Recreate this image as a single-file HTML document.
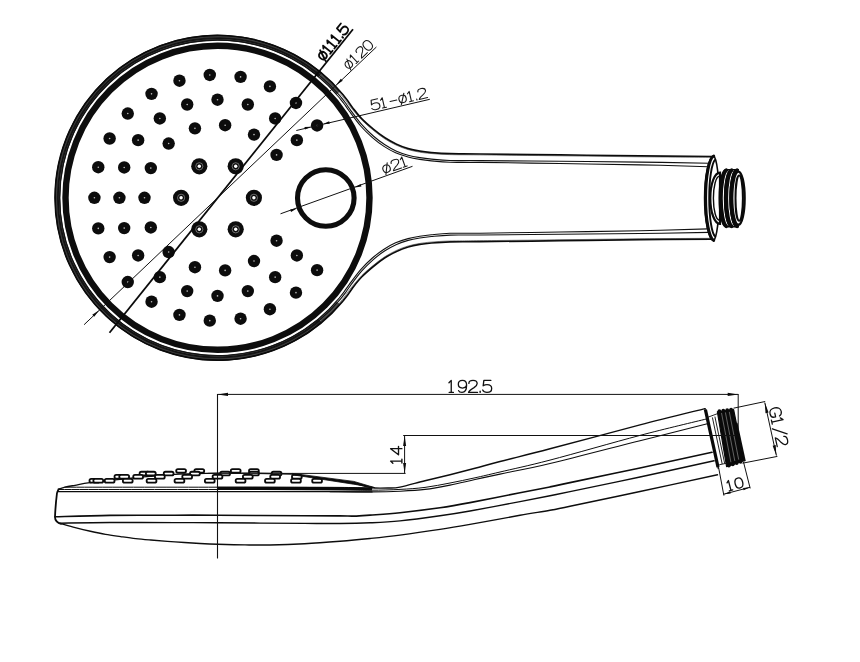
<!DOCTYPE html>
<html><head><meta charset="utf-8"><title>Hand shower drawing</title>
<style>
html,body{margin:0;padding:0;background:#fff;}
body{width:860px;height:662px;overflow:hidden;font-family:"Liberation Sans",sans-serif;}
svg{display:block;}
</style></head><body>
<svg width="860" height="662" viewBox="0 0 860 662">
<rect width="860" height="662" fill="#fff"/>
<!-- top view -->
<circle cx="217.5" cy="197.8" r="152" fill="none" stroke="#0d0d0d" stroke-width="6.4"/>
<path d="M 320.47 75.08 A 160.2 160.2 0 1 0 320.47 320.52" fill="none" stroke="#1a1a1a" stroke-width="5.6"/>
<path d="M 338.4 92.7 A 160.2 160.2 0 0 0 320.47 75.08" fill="none" stroke="#555" stroke-width="5.2"/>
<path d="M 338.4 302.9 A 160.2 160.2 0 0 1 320.47 320.52" fill="none" stroke="#555" stroke-width="5.2"/>
<path d="M 315.33 72.59 A 158.9 158.9 0 1 0 315.33 323.01" fill="none" stroke="#8a8a8a" stroke-width="0.45"/>
<path d="M 316.81 70.69 A 161.3 161.3 0 1 0 316.81 324.91" fill="none" stroke="#8a8a8a" stroke-width="0.45"/>
<path d="M 712.5 156.5 C 700.42 156.4 665.42 156.17 640 155.9 C 614.58 155.63 586.67 155.22 560 154.9 C 533.33 154.58 498.33 154.2 480 154 C 461.67 153.8 458.1 153.93 450 153.7 C 441.9 153.47 436.43 153.02 431.4 152.6 C 426.37 152.18 423.68 151.87 419.8 151.2 C 415.92 150.53 411.98 149.77 408.1 148.6 C 404.22 147.43 400.37 146 396.5 144.2 C 392.63 142.4 388.77 140.32 384.9 137.8 C 381.03 135.28 377.18 132.3 373.3 129.1 C 369.42 125.9 365 122.09 361.6 118.6 C 358.2 115.11 355.18 111.07 352.92 108.17 C 350.66 105.27 349.73 103.48 348.05 101.2 C 346.36 98.92 343.68 95.62 342.81 94.5 A 162.4 162.4 0 1 0 342.81 301.1 C 343.68 299.98 346.36 296.68 348.05 294.4 C 349.73 292.12 350.66 290.33 352.92 287.43 C 355.18 284.53 358.2 280.49 361.6 277 C 365 273.51 369.42 269.7 373.3 266.5 C 377.18 263.3 381.03 260.32 384.9 257.8 C 388.77 255.28 392.63 253.2 396.5 251.4 C 400.37 249.6 404.22 248.17 408.1 247 C 411.98 245.83 415.92 245.07 419.8 244.4 C 423.68 243.73 426.37 243.42 431.4 243 C 436.43 242.58 441.9 242.13 450 241.9 C 458.1 241.67 461.67 241.8 480 241.6 C 498.33 241.4 533.33 241.02 560 240.7 C 586.67 240.38 614.58 239.97 640 239.7 C 665.42 239.43 700.42 239.2 712.5 239.1" fill="none" stroke="#0a0a0a" stroke-width="1.7" stroke-linejoin="round"/>
<path d="M 711 157.3 C 699.12 157.22 664.92 157.05 639.7 156.8 C 614.48 156.55 586.37 156.12 559.7 155.8 C 533.03 155.48 498.03 155.1 479.7 154.9 C 461.37 154.7 457.8 154.83 449.7 154.6 C 441.6 154.37 436.13 153.92 431.1 153.5 C 426.07 153.08 423.38 152.77 419.5 152.1 C 415.62 151.43 411.68 150.67 407.8 149.5 C 403.92 148.33 400.07 146.9 396.2 145.1 C 392.33 143.3 388.47 141.22 384.6 138.7 C 380.73 136.18 376.88 133.2 373 130 C 369.12 126.8 365.1 123.4 361.3 119.5 C 357.5 115.6 352.86 109.89 350.18 106.61 C 347.51 103.32 346.94 102.02 345.23 99.79 C 343.52 97.56 340.81 94.33 339.93 93.24 A 161 161 0 1 0 339.93 302.36 C 340.81 301.27 343.52 298.04 345.23 295.81 C 346.94 293.58 347.51 292.28 350.18 288.99 C 352.86 285.71 357.5 280 361.3 276.1 C 365.1 272.2 369.12 268.8 373 265.6 C 376.88 262.4 380.73 259.42 384.6 256.9 C 388.47 254.38 392.33 252.3 396.2 250.5 C 400.07 248.7 403.92 247.27 407.8 246.1 C 411.68 244.93 415.62 244.17 419.5 243.5 C 423.38 242.83 426.07 242.52 431.1 242.1 C 436.13 241.68 441.6 241.23 449.7 241 C 457.8 240.77 461.37 240.9 479.7 240.7 C 498.03 240.5 533.03 240.12 559.7 239.8 C 586.37 239.48 614.48 239.05 639.7 238.8 C 664.92 238.55 699.12 238.38 711 238.3" fill="none" stroke="#333" stroke-width="0.6" stroke-linejoin="round"/>
<path d="M 709 163.2 C 697.5 163.02 664.83 162.42 640 162.1 C 615.17 161.78 586.67 161.55 560 161.3 C 533.33 161.05 498.33 160.73 480 160.6 C 461.67 160.47 458.1 160.75 450 160.5 C 441.9 160.25 436.43 159.58 431.4 159.1 C 426.37 158.62 423.68 158.25 419.8 157.6 C 415.92 156.95 411.98 156.27 408.1 155.2 C 404.22 154.13 400.37 152.93 396.5 151.2 C 392.63 149.47 388.77 147.33 384.9 144.8 C 381.03 142.27 377.18 139.4 373.3 136 C 369.42 132.6 365.43 128.75 361.6 124.4 C 357.77 120.05 353.01 113.44 350.34 109.88 C 347.66 106.32 347.21 105.28 345.55 103.04 C 343.9 100.81 341.28 97.57 340.42 96.47 A 159.3 159.3 0 1 0 340.42 299.13 C 341.28 298.03 343.9 294.79 345.55 292.56 C 347.21 290.32 347.66 289.28 350.34 285.72 C 353.01 282.16 357.77 275.55 361.6 271.2 C 365.43 266.85 369.42 263 373.3 259.6 C 377.18 256.2 381.03 253.33 384.9 250.8 C 388.77 248.27 392.63 246.13 396.5 244.4 C 400.37 242.67 404.22 241.47 408.1 240.4 C 411.98 239.33 415.92 238.65 419.8 238 C 423.68 237.35 426.37 236.98 431.4 236.5 C 436.43 236.02 441.9 235.35 450 235.1 C 458.1 234.85 461.67 235.13 480 235 C 498.33 234.87 533.33 234.55 560 234.3 C 586.67 234.05 615.17 233.82 640 233.5 C 664.83 233.18 697.5 232.58 709 232.4" fill="none" stroke="#111" stroke-width="1.1" stroke-linejoin="round"/>
<path d="M 708 166.7 C 696.67 166.39 664.67 165.35 640 164.83 C 615.33 164.31 586.67 163.97 560 163.56 C 533.33 163.16 498.33 162.61 480 162.4 C 461.67 162.19 458.1 162.55 450 162.3 C 441.9 162.05 436.43 161.38 431.4 160.9 C 426.37 160.42 423.68 160.05 419.8 159.4 C 415.92 158.75 412.13 158.1 408.1 157 C 404.07 155.9 399.62 154.57 395.6 152.8 C 391.58 151.03 387.87 148.93 384 146.4 C 380.13 143.87 376.28 141 372.4 137.6 C 368.52 134.2 364.6 130.47 360.7 126 C 356.8 121.53 351.74 114.43 349 110.76 C 346.27 107.09 345.9 106.21 344.27 104 C 342.63 101.78 340.03 98.57 339.19 97.49 A 157.7 157.7 0 1 0 339.19 298.11 C 340.03 297.03 342.63 293.82 344.27 291.6 C 345.9 289.39 346.27 288.51 349 284.84 C 351.74 281.17 356.8 274.07 360.7 269.6 C 364.6 265.13 368.52 261.4 372.4 258 C 376.28 254.6 380.13 251.73 384 249.2 C 387.87 246.67 391.58 244.57 395.6 242.8 C 399.62 241.03 404.07 239.7 408.1 238.6 C 412.13 237.5 415.92 236.85 419.8 236.2 C 423.68 235.55 426.37 235.18 431.4 234.7 C 436.43 234.22 441.9 233.55 450 233.3 C 458.1 233.05 461.67 233.41 480 233.2 C 498.33 232.99 533.33 232.44 560 232.04 C 586.67 231.63 615.33 231.29 640 230.77 C 664.67 230.25 696.67 229.21 708 228.9" fill="none" stroke="#111" stroke-width="1.1" stroke-linejoin="round"/>
<circle cx="317.09" cy="270.16" r="6.2" fill="#0c0c0c"/><circle cx="317.09" cy="270.16" r="0.8" fill="#bbb"/>
<circle cx="295.97" cy="292.65" r="6.2" fill="#0c0c0c"/><circle cx="295.97" cy="292.65" r="0.8" fill="#bbb"/>
<circle cx="269.91" cy="309.18" r="6.2" fill="#0c0c0c"/><circle cx="269.91" cy="309.18" r="0.8" fill="#bbb"/>
<circle cx="240.57" cy="318.72" r="6.2" fill="#0c0c0c"/><circle cx="240.57" cy="318.72" r="0.8" fill="#bbb"/>
<circle cx="209.77" cy="320.66" r="6.2" fill="#0c0c0c"/><circle cx="209.77" cy="320.66" r="0.8" fill="#bbb"/>
<circle cx="179.46" cy="314.88" r="6.2" fill="#0c0c0c"/><circle cx="179.46" cy="314.88" r="0.8" fill="#bbb"/>
<circle cx="151.54" cy="301.74" r="6.2" fill="#0c0c0c"/><circle cx="151.54" cy="301.74" r="0.8" fill="#bbb"/>
<circle cx="127.76" cy="282.07" r="6.2" fill="#0c0c0c"/><circle cx="127.76" cy="282.07" r="0.8" fill="#bbb"/>
<circle cx="109.63" cy="257.1" r="6.2" fill="#0c0c0c"/><circle cx="109.63" cy="257.1" r="0.8" fill="#bbb"/>
<circle cx="98.27" cy="228.41" r="6.2" fill="#0c0c0c"/><circle cx="98.27" cy="228.41" r="0.8" fill="#bbb"/>
<circle cx="94.4" cy="197.8" r="6.2" fill="#0c0c0c"/><circle cx="94.4" cy="197.8" r="0.8" fill="#bbb"/>
<circle cx="98.27" cy="167.19" r="6.2" fill="#0c0c0c"/><circle cx="98.27" cy="167.19" r="0.8" fill="#bbb"/>
<circle cx="109.63" cy="138.5" r="6.2" fill="#0c0c0c"/><circle cx="109.63" cy="138.5" r="0.8" fill="#bbb"/>
<circle cx="127.76" cy="113.53" r="6.2" fill="#0c0c0c"/><circle cx="127.76" cy="113.53" r="0.8" fill="#bbb"/>
<circle cx="151.54" cy="93.86" r="6.2" fill="#0c0c0c"/><circle cx="151.54" cy="93.86" r="0.8" fill="#bbb"/>
<circle cx="179.46" cy="80.72" r="6.2" fill="#0c0c0c"/><circle cx="179.46" cy="80.72" r="0.8" fill="#bbb"/>
<circle cx="209.77" cy="74.94" r="6.2" fill="#0c0c0c"/><circle cx="209.77" cy="74.94" r="0.8" fill="#bbb"/>
<circle cx="240.57" cy="76.88" r="6.2" fill="#0c0c0c"/><circle cx="240.57" cy="76.88" r="0.8" fill="#bbb"/>
<circle cx="269.91" cy="86.42" r="6.2" fill="#0c0c0c"/><circle cx="269.91" cy="86.42" r="0.8" fill="#bbb"/>
<circle cx="295.97" cy="102.95" r="6.2" fill="#0c0c0c"/><circle cx="295.97" cy="102.95" r="0.8" fill="#bbb"/>
<circle cx="317.09" cy="125.44" r="6.2" fill="#0c0c0c"/><circle cx="317.09" cy="125.44" r="0.8" fill="#bbb"/>
<circle cx="296.86" cy="255.46" r="6.2" fill="#0c0c0c"/><circle cx="296.86" cy="255.46" r="0.8" fill="#bbb"/>
<circle cx="275.16" cy="277.16" r="6.2" fill="#0c0c0c"/><circle cx="275.16" cy="277.16" r="0.8" fill="#bbb"/>
<circle cx="247.81" cy="291.1" r="6.2" fill="#0c0c0c"/><circle cx="247.81" cy="291.1" r="0.8" fill="#bbb"/>
<circle cx="217.5" cy="295.9" r="6.2" fill="#0c0c0c"/><circle cx="217.5" cy="295.9" r="0.8" fill="#bbb"/>
<circle cx="187.19" cy="291.1" r="6.2" fill="#0c0c0c"/><circle cx="187.19" cy="291.1" r="0.8" fill="#bbb"/>
<circle cx="159.84" cy="277.16" r="6.2" fill="#0c0c0c"/><circle cx="159.84" cy="277.16" r="0.8" fill="#bbb"/>
<circle cx="138.14" cy="255.46" r="6.2" fill="#0c0c0c"/><circle cx="138.14" cy="255.46" r="0.8" fill="#bbb"/>
<circle cx="124.2" cy="228.11" r="6.2" fill="#0c0c0c"/><circle cx="124.2" cy="228.11" r="0.8" fill="#bbb"/>
<circle cx="119.4" cy="197.8" r="6.2" fill="#0c0c0c"/><circle cx="119.4" cy="197.8" r="0.8" fill="#bbb"/>
<circle cx="124.2" cy="167.49" r="6.2" fill="#0c0c0c"/><circle cx="124.2" cy="167.49" r="0.8" fill="#bbb"/>
<circle cx="138.14" cy="140.14" r="6.2" fill="#0c0c0c"/><circle cx="138.14" cy="140.14" r="0.8" fill="#bbb"/>
<circle cx="159.84" cy="118.44" r="6.2" fill="#0c0c0c"/><circle cx="159.84" cy="118.44" r="0.8" fill="#bbb"/>
<circle cx="187.19" cy="104.5" r="6.2" fill="#0c0c0c"/><circle cx="187.19" cy="104.5" r="0.8" fill="#bbb"/>
<circle cx="217.5" cy="99.7" r="6.2" fill="#0c0c0c"/><circle cx="217.5" cy="99.7" r="0.8" fill="#bbb"/>
<circle cx="247.81" cy="104.5" r="6.2" fill="#0c0c0c"/><circle cx="247.81" cy="104.5" r="0.8" fill="#bbb"/>
<circle cx="275.16" cy="118.44" r="6.2" fill="#0c0c0c"/><circle cx="275.16" cy="118.44" r="0.8" fill="#bbb"/>
<circle cx="296.86" cy="140.14" r="6.2" fill="#0c0c0c"/><circle cx="296.86" cy="140.14" r="0.8" fill="#bbb"/>
<circle cx="276.56" cy="240.71" r="6.2" fill="#0c0c0c"/><circle cx="276.56" cy="240.71" r="0.8" fill="#bbb"/>
<circle cx="254" cy="261.02" r="6.2" fill="#0c0c0c"/><circle cx="254" cy="261.02" r="0.8" fill="#bbb"/>
<circle cx="225.13" cy="270.4" r="6.2" fill="#0c0c0c"/><circle cx="225.13" cy="270.4" r="0.8" fill="#bbb"/>
<circle cx="194.94" cy="267.23" r="6.2" fill="#0c0c0c"/><circle cx="194.94" cy="267.23" r="0.8" fill="#bbb"/>
<circle cx="168.65" cy="252.05" r="6.2" fill="#0c0c0c"/><circle cx="168.65" cy="252.05" r="0.8" fill="#bbb"/>
<circle cx="150.81" cy="227.49" r="6.2" fill="#0c0c0c"/><circle cx="150.81" cy="227.49" r="0.8" fill="#bbb"/>
<circle cx="144.5" cy="197.8" r="6.2" fill="#0c0c0c"/><circle cx="144.5" cy="197.8" r="0.8" fill="#bbb"/>
<circle cx="150.81" cy="168.11" r="6.2" fill="#0c0c0c"/><circle cx="150.81" cy="168.11" r="0.8" fill="#bbb"/>
<circle cx="168.65" cy="143.55" r="6.2" fill="#0c0c0c"/><circle cx="168.65" cy="143.55" r="0.8" fill="#bbb"/>
<circle cx="194.94" cy="128.37" r="6.2" fill="#0c0c0c"/><circle cx="194.94" cy="128.37" r="0.8" fill="#bbb"/>
<circle cx="225.13" cy="125.2" r="6.2" fill="#0c0c0c"/><circle cx="225.13" cy="125.2" r="0.8" fill="#bbb"/>
<circle cx="254" cy="134.58" r="6.2" fill="#0c0c0c"/><circle cx="254" cy="134.58" r="0.8" fill="#bbb"/>
<circle cx="276.56" cy="154.89" r="6.2" fill="#0c0c0c"/><circle cx="276.56" cy="154.89" r="0.8" fill="#bbb"/>
<circle cx="253.9" cy="197.8" r="8.1" fill="#0c0c0c"/><circle cx="253.9" cy="197.8" r="3.6" fill="none" stroke="#aaa" stroke-width="0.6"/><circle cx="253.9" cy="197.8" r="1.7" fill="#fff"/>
<circle cx="235.7" cy="166.28" r="8.1" fill="#0c0c0c"/><circle cx="235.7" cy="166.28" r="3.6" fill="none" stroke="#aaa" stroke-width="0.6"/><circle cx="235.7" cy="166.28" r="1.7" fill="#fff"/>
<circle cx="199.3" cy="166.28" r="8.1" fill="#0c0c0c"/><circle cx="199.3" cy="166.28" r="3.6" fill="none" stroke="#aaa" stroke-width="0.6"/><circle cx="199.3" cy="166.28" r="1.7" fill="#fff"/>
<circle cx="181.1" cy="197.8" r="8.1" fill="#0c0c0c"/><circle cx="181.1" cy="197.8" r="3.6" fill="none" stroke="#aaa" stroke-width="0.6"/><circle cx="181.1" cy="197.8" r="1.7" fill="#fff"/>
<circle cx="199.3" cy="229.32" r="8.1" fill="#0c0c0c"/><circle cx="199.3" cy="229.32" r="3.6" fill="none" stroke="#aaa" stroke-width="0.6"/><circle cx="199.3" cy="229.32" r="1.7" fill="#fff"/>
<circle cx="235.7" cy="229.32" r="8.1" fill="#0c0c0c"/><circle cx="235.7" cy="229.32" r="3.6" fill="none" stroke="#aaa" stroke-width="0.6"/><circle cx="235.7" cy="229.32" r="1.7" fill="#fff"/>
<circle cx="325.8" cy="198" r="28.3" fill="none" stroke="#0d0d0d" stroke-width="5.1"/>
<line x1="109.5" y1="332.7" x2="353" y2="29.2" stroke="#0a0a0a" stroke-width="1.8"/>
<line x1="84.1" y1="324.7" x2="376.4" y2="47" stroke="#111" stroke-width="1"/>
<polygon points="335.96,85.26 340.8,78.73 342.73,80.76" fill="#0a0a0a"/>
<polygon points="99.04,310.34 94.2,316.87 92.27,314.84" fill="#0a0a0a"/>
<g transform="translate(323.91 61.63) rotate(-51.26) scale(10.81 -10.6)" fill="none" stroke="#0a0a0a" stroke-width="0.17" stroke-linecap="round" stroke-linejoin="round"><path transform="translate(0 0)" d="M .375 .8 C .15 .8 .05 .64 .05 .43 C .05 .2 .15 .06 .375 .06 C .6 .06 .7 .2 .7 .43 C .7 .64 .6 .8 .375 .8 Z M .15 -.1 L .6 .95"/><path transform="translate(0.88 0)" d="M .03 .8 L .22 1 L .22 0 M .05 0 L .4 0"/><path transform="translate(1.5 0)" d="M .03 .8 L .22 1 L .22 0 M .05 0 L .4 0"/><path transform="translate(2.12 0)" d="M .03 .8 L .22 1 L .22 0 M .05 0 L .4 0"/><path transform="translate(2.74 0)" d="M .1 0 L .1 .1"/><path transform="translate(3.05 0)" d="M .68 1 L .1 1 L .04 .55 C .14 .62 .24 .65 .36 .65 C .6 .65 .75 .52 .75 .33 C .75 .13 .6 0 .36 0 C .18 0 .06 .07 0 .2"/></g>
<g transform="translate(348.92 70.35) rotate(-43.53) scale(10.61 -10.2)" fill="none" stroke="#1a1a1a" stroke-width="0.1" stroke-linecap="round" stroke-linejoin="round"><path transform="translate(0 0)" d="M .375 .8 C .15 .8 .05 .64 .05 .43 C .05 .2 .15 .06 .375 .06 C .6 .06 .7 .2 .7 .43 C .7 .64 .6 .8 .375 .8 Z M .15 -.1 L .6 .95"/><path transform="translate(0.88 0)" d="M .03 .8 L .22 1 L .22 0 M .05 0 L .4 0"/><path transform="translate(1.66 0)" d="M .03 .75 C .03 .9 .17 1 .375 1 C .58 1 .72 .9 .72 .74 C .72 .6 .62 .5 .46 .4 C .2 .25 .05 .15 0 0 L .75 0"/><path transform="translate(2.53 0)" d="M .375 1 C .12 1 0 .8 0 .5 C 0 .2 .12 0 .375 0 C .63 0 .75 .2 .75 .5 C .75 .8 .63 1 .375 1 Z"/></g>
<line x1="296.3" y1="130.5" x2="429.8" y2="99.3" stroke="#111" stroke-width="1"/>
<polygon points="311.05,126.85 305.02,129.6 304.43,127.07" fill="#0a0a0a"/>
<polygon points="323.13,124.03 329.16,121.29 329.75,123.82" fill="#0a0a0a"/>
<g transform="translate(372.33 110.47) rotate(-13.15) scale(11.32 -10.2)" fill="none" stroke="#1a1a1a" stroke-width="0.1" stroke-linecap="round" stroke-linejoin="round"><path transform="translate(0 0)" d="M .68 1 L .1 1 L .04 .55 C .14 .62 .24 .65 .36 .65 C .6 .65 .75 .52 .75 .33 C .75 .13 .6 0 .36 0 C .18 0 .06 .07 0 .2"/><path transform="translate(0.88 0)" d="M .03 .8 L .22 1 L .22 0 M .05 0 L .4 0"/><path transform="translate(1.66 0)" d="M .05 .45 L .65 .45"/><path transform="translate(2.46 0)" d="M .375 .8 C .15 .8 .05 .64 .05 .43 C .05 .2 .15 .06 .375 .06 C .6 .06 .7 .2 .7 .43 C .7 .64 .6 .8 .375 .8 Z M .15 -.1 L .6 .95"/><path transform="translate(3.33 0)" d="M .03 .8 L .22 1 L .22 0 M .05 0 L .4 0"/><path transform="translate(3.95 0)" d="M .1 0 L .1 .1"/><path transform="translate(4.26 0)" d="M .03 .75 C .03 .9 .17 1 .375 1 C .58 1 .72 .9 .72 .74 C .72 .6 .62 .5 .46 .4 C .2 .25 .05 .15 0 0 L .75 0"/></g>
<line x1="280.5" y1="213.8" x2="412.5" y2="166.3" stroke="#111" stroke-width="1"/>
<polygon points="296.73,208.46 291.05,211.89 290.17,209.44" fill="#0a0a0a"/>
<polygon points="354.87,187.54 360.55,184.11 361.43,186.56" fill="#0a0a0a"/>
<g transform="translate(384 174.22) rotate(-19.79) scale(11.42 -10.2)" fill="none" stroke="#1a1a1a" stroke-width="0.1" stroke-linecap="round" stroke-linejoin="round"><path transform="translate(0 0)" d="M .375 .8 C .15 .8 .05 .64 .05 .43 C .05 .2 .15 .06 .375 .06 C .6 .06 .7 .2 .7 .43 C .7 .64 .6 .8 .375 .8 Z M .15 -.1 L .6 .95"/><path transform="translate(0.88 0)" d="M .03 .75 C .03 .9 .17 1 .375 1 C .58 1 .72 .9 .72 .74 C .72 .6 .62 .5 .46 .4 C .2 .25 .05 .15 0 0 L .75 0"/><path transform="translate(1.75 0)" d="M .03 .8 L .22 1 L .22 0 M .05 0 L .4 0"/></g>
<!-- connector top view -->
<path d="M 713.5 155.7 C 708.5 157.5 704.6 176 704.6 198.2 C 704.6 220.4 708.5 238.9 713.5 240.7 C 716.8 238.4 719.2 218.4 719.2 198.2 C 719.2 178 716.8 158 713.5 155.7 Z" fill="#fff" stroke="#0a0a0a" stroke-width="1.6" stroke-linejoin="round"/>
<path d="M 713.7 156.0 C 709.2 158 705.6 176 705.6 198.2 C 705.6 220.4 709.2 238.4 713.7 240.4" fill="none" stroke="#0a0a0a" stroke-width="3.0" stroke-linecap="round"/>
<path d="M 715.4 159.6 C 711.6 162.5 709.2 180 709.2 198.2 C 709.2 216.4 711.6 233.9 715.4 236.8" fill="none" stroke="#0a0a0a" stroke-width="1.9"/>
<path d="M 720 172.6 C 714.5 172.6 710.3 184.2 710.3 198.2 C 710.3 212.2 714.5 223.8 720 223.8 Z" fill="#fff" stroke="#0a0a0a" stroke-width="2.2"/>
<path d="M 719.5 176.2 C 716.0 176.2 713.4 186.2 713.4 198.2 C 713.4 210.2 716.0 220.2 719.5 220.2" fill="none" stroke="#0a0a0a" stroke-width="1.4"/>
<path d="M 725.6 169.6 A 6.4 28.6 0 0 0 725.6 226.8 L 731 226.8 A 6.4 28.6 0 0 1 731 169.6 Z" fill="#fff" stroke="#0a0a0a" stroke-width="1.4"/>
<path d="M 726.2 170.2 A 6.4 28.4 0 0 0 726.2 226.2" fill="none" stroke="#0a0a0a" stroke-width="3.8" stroke-linecap="round"/>
<path d="M 731 169.6 A 6.4 28.6 0 0 0 731 226.8 L 736.4 226.8 A 6.4 28.6 0 0 1 736.4 169.6 Z" fill="#fff" stroke="#0a0a0a" stroke-width="1.4"/>
<path d="M 731.6 170.2 A 6.4 28.4 0 0 0 731.6 226.2" fill="none" stroke="#0a0a0a" stroke-width="3.8" stroke-linecap="round"/>
<path d="M 736.4 169.6 A 6.4 28.6 0 0 0 736.4 226.8 L 739 226.8 A 6.4 28.6 0 0 1 739 169.6 Z" fill="#fff" stroke="#0a0a0a" stroke-width="1.4"/>
<path d="M 737 170.2 A 6.4 28.4 0 0 0 737 226.2" fill="none" stroke="#0a0a0a" stroke-width="3.8" stroke-linecap="round"/>
<ellipse cx="738.4" cy="198.2" rx="6.2" ry="26.6" fill="#fff" stroke="#0a0a0a" stroke-width="2.4"/>
<ellipse cx="739.2" cy="198.2" rx="3.7" ry="22.6" fill="#fff" stroke="#0a0a0a" stroke-width="2.0"/>
<!-- side view -->
<path d="M 58.2 489.2 C 59.33 488.87 62.2 487.85 65 487.2 C 67.8 486.55 70.85 486.05 75 485.3 C 79.15 484.55 82.4 483.7 89.9 482.7 C 97.4 481.7 109.98 480.35 120 479.3 C 130.02 478.25 140 477.25 150 476.4 C 160 475.55 168.83 474.73 180 474.2 C 191.17 473.67 205.33 473.37 217 473.2 C 228.67 473.03 237.38 473.07 250 473.2 C 262.62 473.33 285.58 473.87 292.7 474" fill="none" stroke="#0d0d0d" stroke-width="1.3" stroke-linecap="round" />
<rect x="176.2" y="469.05" width="9.8" height="3.7" rx="1.7" fill="#fff" stroke="#0a0a0a" stroke-width="1.8"/>
<rect x="194.4" y="469.05" width="9.8" height="3.7" rx="1.7" fill="#fff" stroke="#0a0a0a" stroke-width="1.8"/>
<rect x="230.8" y="469.05" width="9.8" height="3.7" rx="1.7" fill="#fff" stroke="#0a0a0a" stroke-width="1.8"/>
<rect x="249" y="469.05" width="9.8" height="3.7" rx="1.7" fill="#fff" stroke="#0a0a0a" stroke-width="1.8"/>
<rect x="139.6" y="471.75" width="9.8" height="3.7" rx="1.7" fill="#fff" stroke="#0a0a0a" stroke-width="1.8"/>
<rect x="145.91" y="471.75" width="9.8" height="3.7" rx="1.7" fill="#fff" stroke="#0a0a0a" stroke-width="1.8"/>
<rect x="163.75" y="471.75" width="9.8" height="3.7" rx="1.7" fill="#fff" stroke="#0a0a0a" stroke-width="1.8"/>
<rect x="190.04" y="471.75" width="9.8" height="3.7" rx="1.7" fill="#fff" stroke="#0a0a0a" stroke-width="1.8"/>
<rect x="220.23" y="471.75" width="9.8" height="3.7" rx="1.7" fill="#fff" stroke="#0a0a0a" stroke-width="1.8"/>
<rect x="249.1" y="471.75" width="9.8" height="3.7" rx="1.7" fill="#fff" stroke="#0a0a0a" stroke-width="1.8"/>
<rect x="271.66" y="471.75" width="9.8" height="3.7" rx="1.7" fill="#fff" stroke="#0a0a0a" stroke-width="1.8"/>
<rect x="114.5" y="474.95" width="9.8" height="3.7" rx="1.7" fill="#fff" stroke="#0a0a0a" stroke-width="1.8"/>
<rect x="119.3" y="474.95" width="9.8" height="3.7" rx="1.7" fill="#fff" stroke="#0a0a0a" stroke-width="1.8"/>
<rect x="133.24" y="474.95" width="9.8" height="3.7" rx="1.7" fill="#fff" stroke="#0a0a0a" stroke-width="1.8"/>
<rect x="154.94" y="474.95" width="9.8" height="3.7" rx="1.7" fill="#fff" stroke="#0a0a0a" stroke-width="1.8"/>
<rect x="182.29" y="474.95" width="9.8" height="3.7" rx="1.7" fill="#fff" stroke="#0a0a0a" stroke-width="1.8"/>
<rect x="212.6" y="474.95" width="9.8" height="3.7" rx="1.7" fill="#fff" stroke="#0a0a0a" stroke-width="1.8"/>
<rect x="242.91" y="474.95" width="9.8" height="3.7" rx="1.7" fill="#fff" stroke="#0a0a0a" stroke-width="1.8"/>
<rect x="270.26" y="474.95" width="9.8" height="3.7" rx="1.7" fill="#fff" stroke="#0a0a0a" stroke-width="1.8"/>
<rect x="291.96" y="474.95" width="9.8" height="3.7" rx="1.7" fill="#fff" stroke="#0a0a0a" stroke-width="1.8"/>
<rect x="89.5" y="478.95" width="9.8" height="3.7" rx="1.7" fill="#fff" stroke="#0a0a0a" stroke-width="1.8"/>
<rect x="93.37" y="478.95" width="9.8" height="3.7" rx="1.7" fill="#fff" stroke="#0a0a0a" stroke-width="1.8"/>
<rect x="104.73" y="478.95" width="9.8" height="3.7" rx="1.7" fill="#fff" stroke="#0a0a0a" stroke-width="1.8"/>
<rect x="122.86" y="478.95" width="9.8" height="3.7" rx="1.7" fill="#fff" stroke="#0a0a0a" stroke-width="1.8"/>
<rect x="146.64" y="478.95" width="9.8" height="3.7" rx="1.7" fill="#fff" stroke="#0a0a0a" stroke-width="1.8"/>
<rect x="174.56" y="478.95" width="9.8" height="3.7" rx="1.7" fill="#fff" stroke="#0a0a0a" stroke-width="1.8"/>
<rect x="204.87" y="478.95" width="9.8" height="3.7" rx="1.7" fill="#fff" stroke="#0a0a0a" stroke-width="1.8"/>
<rect x="235.67" y="478.95" width="9.8" height="3.7" rx="1.7" fill="#fff" stroke="#0a0a0a" stroke-width="1.8"/>
<rect x="265.01" y="478.95" width="9.8" height="3.7" rx="1.7" fill="#fff" stroke="#0a0a0a" stroke-width="1.8"/>
<rect x="291.07" y="478.95" width="9.8" height="3.7" rx="1.7" fill="#fff" stroke="#0a0a0a" stroke-width="1.8"/>
<rect x="312.19" y="478.95" width="9.8" height="3.7" rx="1.7" fill="#fff" stroke="#0a0a0a" stroke-width="1.8"/>
<path d="M 292.7 473.4 L 353.8 481.4 L 374.7 487.6 L 353.5 484.2 L 292.7 474.8 Z" fill="#0a0a0a" stroke="#0a0a0a" stroke-width="0.8" stroke-linejoin="round"/>
<path d="M 353.8 482.8 C 355.67 483.37 361.52 485.33 365 486.2 C 368.48 487.07 370.87 487.7 374.7 488 C 378.53 488.3 383.78 488.15 388 488 C 392.22 487.85 393.83 488.32 400 487.1 C 406.17 485.88 416.67 482.77 425 480.7 C 433.33 478.63 441.67 476.77 450 474.7 C 458.33 472.63 466.67 470.5 475 468.3 C 483.33 466.1 487.5 464.75 500 461.5 C 512.5 458.25 526.67 454.9 550 448.8 C 573.33 442.7 614.17 431.6 640 424.9 C 665.83 418.2 694.17 411.32 705 408.6" fill="none" stroke="#0d0d0d" stroke-width="1.4" stroke-linecap="round" />
<path d="M 65 487.2 C 90.42 487.2 171.67 487.17 217.5 487.2 C 263.33 487.23 314.25 487.17 340 487.4 C 365.75 487.63 366.67 488.4 372 488.6" fill="none" stroke="#0d0d0d" stroke-width="1" stroke-linecap="round" />
<path d="M 59 489.5 C 85.42 489.5 172.33 489.48 217.5 489.5 C 262.67 489.52 304.58 489.48 330 489.6 C 355.42 489.72 358.33 490.23 370 490.2 C 381.67 490.17 390.83 489.87 400 489.4 C 409.17 488.93 416.67 488.47 425 487.4 C 433.33 486.33 441.67 484.6 450 483 C 458.33 481.4 466.67 479.63 475 477.8 C 483.33 475.97 487.5 474.95 500 472 C 512.5 469.05 526.67 466.2 550 460.1 C 573.33 454 613.95 442.25 640 435.4 C 666.05 428.55 695.25 421.73 706.3 419" fill="none" stroke="#0d0d0d" stroke-width="1" stroke-linecap="round" />
<path d="M 57.4 491.7 C 84.08 491.68 172.07 491.62 217.5 491.6 C 262.93 491.58 304.25 491.55 330 491.6 C 355.75 491.65 365 491.85 372 491.9" fill="none" stroke="#0d0d0d" stroke-width="1.25" stroke-linecap="round" />
<path d="M 330 491.6 C 337 491.65 360.33 491.97 372 491.9 C 383.67 491.83 391.17 491.62 400 491.2 C 408.83 490.78 416.67 490.42 425 489.4 C 433.33 488.38 441.67 486.75 450 485.1 C 458.33 483.45 466.67 481.33 475 479.5 C 483.33 477.67 487.5 476.77 500 474.1 C 512.5 471.43 526.67 469.07 550 463.5 C 573.33 457.93 613.78 447.32 640 440.7 C 666.22 434.08 696.08 426.62 707.3 423.8" fill="none" stroke="#0d0d0d" stroke-width="1.1" stroke-linecap="round" />
<path d="M 217.5 488.3 L 372 488.9" stroke="#0a0a0a" stroke-width="3.3" fill="none"/>
<path d="M 59.6 488.6 C 57.8 490 57.2 491.5 57.0 493 C 56.0 501 55.3 510 55.0 516.6 C 54.8 520.6 56.6 522.8 61.6 524.0" fill="none" stroke="#0a0a0a" stroke-width="1.8"/>
<path d="M 55 516.7 C 64.17 516.48 90 515.65 110 515.4 C 130 515.15 157.08 515.23 175 515.2 C 192.92 515.17 195.9 515.1 217.5 515.2 C 239.1 515.3 284.18 515.68 304.6 515.8 C 325.02 515.92 331.77 515.85 340 515.9 C 348.23 515.95 349 516.23 354 516.1 C 359 515.97 362.33 515.67 370 515.1 C 377.67 514.53 388.33 513.93 400 512.7 C 411.67 511.47 428.33 509.38 440 507.7 C 451.67 506.02 456.67 505.1 470 502.6 C 483.33 500.1 506.67 495.32 520 492.7 C 533.33 490.08 541.67 488.58 550 486.9 C 558.33 485.22 555 485.75 570 482.6 C 585 479.45 616.33 473.05 640 468 C 663.67 462.95 700 454.92 712 452.3" fill="none" stroke="#0d0d0d" stroke-width="1.6" stroke-linecap="round" />
<path d="M 59.5 523.2 C 67.92 523.08 90.75 522.6 110 522.5 C 129.25 522.4 157.08 522.55 175 522.6 C 192.92 522.65 195.9 522.67 217.5 522.8 C 239.1 522.93 284.18 523.28 304.6 523.4 C 325.02 523.52 329.1 523.6 340 523.5 C 350.9 523.4 360 523.23 370 522.8 C 380 522.37 388.33 522.07 400 520.9 C 411.67 519.73 428.33 517.45 440 515.8 C 451.67 514.15 456.67 513.37 470 511 C 483.33 508.63 506.67 504.15 520 501.6 C 533.33 499.05 541.67 497.37 550 495.7 C 558.33 494.03 555 494.72 570 491.6 C 585 488.48 615.98 482.13 640 477 C 664.02 471.87 701.75 463.5 714.1 460.8" fill="none" stroke="#0d0d0d" stroke-width="1.4" stroke-linecap="round" />
<path d="M 61.6 523.8 C 63.87 524.43 70.4 526.35 75.2 527.6 C 80 528.85 85.35 530.17 90.4 531.3 C 95.45 532.43 100.47 533.52 105.5 534.4 C 110.53 535.28 115.57 535.9 120.6 536.6 C 125.63 537.3 130.67 538.03 135.7 538.6 C 140.73 539.17 144.25 539.45 150.8 540 C 157.35 540.55 166.8 541.32 175 541.9 C 183.2 542.48 192.88 543.1 200 543.5 C 207.12 543.9 210.2 544.07 217.7 544.3 C 225.2 544.53 236.28 544.78 245 544.9 C 253.72 545.02 260.07 545.18 270 545 C 279.93 544.82 292.93 544.42 304.6 543.8 C 316.27 543.18 329.1 542.18 340 541.3 C 350.9 540.42 360 539.53 370 538.5 C 380 537.47 388.33 536.62 400 535.1 C 411.67 533.58 428.33 531.18 440 529.4 C 451.67 527.62 456.67 526.75 470 524.4 C 483.33 522.05 506.67 517.65 520 515.3 C 533.33 512.95 541.67 511.82 550 510.3 C 558.33 508.78 555 509.33 570 506.2 C 585 503.07 615.42 496.73 640 491.5 C 664.58 486.27 704.58 477.58 717.5 474.8" fill="none" stroke="#0d0d0d" stroke-width="1.4" stroke-linecap="round" />
<path d="M 705.4 409.6 L 718.0 467.2" stroke="#0a0a0a" stroke-width="3.2" fill="none" stroke-linecap="butt"/>
<path d="M 704.8 408.2 L 718.4 469.0" stroke="#0a0a0a" stroke-width="1.2" fill="none"/>
<path d="M 708.0 417.2 L 717.6 413.6 M 719.2 464.8 L 726.6 463.2 M 712.4 417.4 L 722.2 464.0 M 714.9 416.6 L 724.7 463.6" stroke="#0a0a0a" stroke-width="0.9" fill="none"/>
<path d="M 717.4 411.8 L 733.6 409.6 L 744.0 460.8 L 726.6 466.6 Z" fill="#0a0a0a" stroke="#0a0a0a" stroke-width="1.2" stroke-linejoin="round"/>
<circle cx="719.4" cy="411.2" r="1.9" fill="#0a0a0a"/><circle cx="728.9" cy="465.6" r="1.9" fill="#0a0a0a"/>
<circle cx="723.3" cy="410.65" r="1.9" fill="#0a0a0a"/><circle cx="732.8" cy="464.31" r="1.9" fill="#0a0a0a"/>
<path d="M 721.5 412.95 L 730.9 462.21" stroke="#bbb" stroke-width="0.5"/>
<circle cx="727.2" cy="410.11" r="1.9" fill="#0a0a0a"/><circle cx="736.7" cy="463.03" r="1.9" fill="#0a0a0a"/>
<path d="M 725.4 412.41 L 734.8 460.93" stroke="#bbb" stroke-width="0.5"/>
<circle cx="731.1" cy="409.56" r="1.9" fill="#0a0a0a"/><circle cx="740.6" cy="461.74" r="1.9" fill="#0a0a0a"/>
<path d="M 729.3 411.86 L 738.7 459.64" stroke="#bbb" stroke-width="0.5"/>
<path d="M 736.6 423 L 744.9 461.2" stroke="#0a0a0a" stroke-width="1.8" fill="none"/>
<line x1="217.5" y1="394" x2="217.5" y2="558.5" stroke="#111" stroke-width="1.1"/>
<line x1="738.2" y1="394" x2="738.2" y2="431.5" stroke="#111" stroke-width="1"/>
<line x1="217.5" y1="394.4" x2="738.2" y2="394.4" stroke="#111" stroke-width="1"/>
<polygon points="217.5,394.4 228,392.85 228,395.95" fill="#0a0a0a"/>
<polygon points="738.2,394.4 727.7,395.95 727.7,392.85" fill="#0a0a0a"/>
<g transform="translate(448.6 392.4) rotate(0) scale(12 -12)" fill="none" stroke="#111" stroke-width="0.11" stroke-linecap="round" stroke-linejoin="round"><path transform="translate(0 0)" d="M .03 .8 L .22 1 L .22 0 M .05 0 L .4 0"/><path transform="translate(0.78 0)" d="M .72 .67 C .72 .47 .58 .36 .375 .36 C .16 .36 .03 .48 .03 .67 C .03 .87 .16 1 .375 1 C .6 1 .72 .87 .72 .62 C .72 .25 .6 0 .34 0 C .18 0 .08 .06 .05 .15"/><path transform="translate(1.66 0)" d="M .03 .75 C .03 .9 .17 1 .375 1 C .58 1 .72 .9 .72 .74 C .72 .6 .62 .5 .46 .4 C .2 .25 .05 .15 0 0 L .75 0"/><path transform="translate(2.53 0)" d="M .1 0 L .1 .1"/><path transform="translate(2.84 0)" d="M .68 1 L .1 1 L .04 .55 C .14 .62 .24 .65 .36 .65 C .6 .65 .75 .52 .75 .33 C .75 .13 .6 0 .36 0 C .18 0 .06 .07 0 .2"/></g>
<line x1="208" y1="473.4" x2="405.6" y2="473.4" stroke="#111" stroke-width="1"/>
<line x1="403.2" y1="435.5" x2="735.5" y2="435.5" stroke="#111" stroke-width="1"/>
<line x1="404.6" y1="435.5" x2="404.6" y2="473.4" stroke="#111" stroke-width="1"/>
<polygon points="404.6,435.5 406.1,446 403.1,446" fill="#0a0a0a"/>
<polygon points="404.6,473.4 403.1,462.9 406.1,462.9" fill="#0a0a0a"/>
<g transform="translate(401.9 463.6) rotate(-90) scale(11.3 -11.3)" fill="none" stroke="#111" stroke-width="0.12" stroke-linecap="round" stroke-linejoin="round"><path transform="translate(0 0)" d="M .03 .8 L .22 1 L .22 0 M .05 0 L .4 0"/><path transform="translate(0.78 0)" d="M .54 0 L .54 1 L 0 .3 L .75 .3"/></g>
<line x1="733.5" y1="408.2" x2="765.2" y2="401.5" stroke="#111" stroke-width="1"/>
<line x1="742.5" y1="463.2" x2="777.4" y2="456.4" stroke="#111" stroke-width="1"/>
<line x1="764.8" y1="402.6" x2="776.4" y2="455.6" stroke="#111" stroke-width="1"/>
<polygon points="764.8,402.6 768.56,412.53 765.53,413.19" fill="#0a0a0a"/>
<polygon points="776.4,455.6 772.64,445.67 775.67,445.01" fill="#0a0a0a"/>
<g transform="translate(769 409.2) rotate(77.6) scale(11.96 -11.5)" fill="none" stroke="#111" stroke-width="0.11" stroke-linecap="round" stroke-linejoin="round"><path transform="translate(0 0)" d="M .74 .76 C .67 .92 .55 1 .39 1 C .14 1 0 .8 0 .5 C 0 .2 .14 0 .39 0 C .6 0 .74 .1 .74 .3 L .74 .42 L .42 .42"/><path transform="translate(0.88 0)" d="M .03 .8 L .22 1 L .22 0 M .05 0 L .4 0"/><path transform="translate(1.66 0)" d="M 0 -.08 L .68 1.08"/><path transform="translate(2.46 0)" d="M .03 .75 C .03 .9 .17 1 .375 1 C .58 1 .72 .9 .72 .74 C .72 .6 .62 .5 .46 .4 C .2 .25 .05 .15 0 0 L .75 0"/></g>
<line x1="718.4" y1="466.4" x2="723.9" y2="495.6" stroke="#111" stroke-width="1"/>
<line x1="743.4" y1="461.6" x2="750.2" y2="488.4" stroke="#111" stroke-width="1"/>
<line x1="723.7" y1="494.2" x2="750.1" y2="487.3" stroke="#111" stroke-width="1"/>
<polygon points="723.7,494.2 730.17,491.27 730.78,493.59" fill="#0a0a0a"/>
<polygon points="750.1,487.3 743.63,490.23 743.02,487.91" fill="#0a0a0a"/>
<g transform="translate(728.8 490.9) rotate(-14.6) scale(10.2 -10.2)" fill="none" stroke="#111" stroke-width="0.13" stroke-linecap="round" stroke-linejoin="round"><path transform="translate(0 0)" d="M .03 .8 L .22 1 L .22 0 M .05 0 L .4 0"/><path transform="translate(0.78 0)" d="M .375 1 C .12 1 0 .8 0 .5 C 0 .2 .12 0 .375 0 C .63 0 .75 .2 .75 .5 C .75 .8 .63 1 .375 1 Z"/></g>
</svg>
</body></html>
